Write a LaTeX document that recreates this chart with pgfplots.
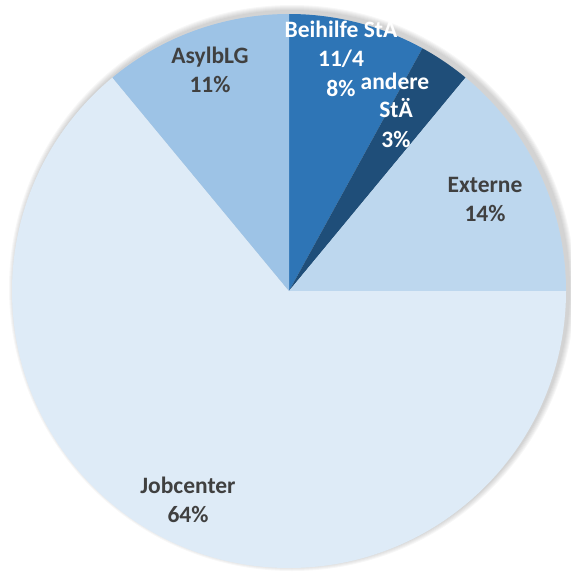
\documentclass[border=0pt]{standalone}
\usepackage{pgfplots}
\usepackage{pgfplotstable}
\usepackage{fontspec}
\setmainfont{Carlito}
\pgfplotsset{compat=1.18}
\definecolor{cBeihilfe}{HTML}{2E75B6}
\definecolor{cAndere}{HTML}{1F4E79}
\definecolor{cExterne}{HTML}{BDD7EE}
\definecolor{cJob}{HTML}{DEEBF7}
\definecolor{cAsyl}{HTML}{9DC3E6}
\definecolor{tdark}{HTML}{404040}
\tikzset{lbl/.style={font=\fontsize{23.5bp}{29bp}\selectfont\bfseries, inner sep=0pt, anchor=base}}
\pgfplotstableread{
label value
Beihilfe 8
andere 3
Externe 14
Jobcenter 64
AsylbLG 11
}\piedata
\newcommand\sector[3]{%
  \fill[#3] (axis cs:289,291) -- ([shift={(#1:277bp)}]axis cs:289,291) arc[start angle=#1, end angle=#2, radius=277bp] -- cycle;}
\begin{document}
\begin{tikzpicture}
\pgfplotstablegetelem{0}{value}\of\piedata \let\vA\pgfplotsretval
\pgfplotstablegetelem{1}{value}\of\piedata \let\vB\pgfplotsretval
\pgfplotstablegetelem{2}{value}\of\piedata \let\vC\pgfplotsretval
\pgfplotstablegetelem{3}{value}\of\piedata \let\vD\pgfplotsretval
\pgfplotstablegetelem{4}{value}\of\piedata \let\vE\pgfplotsretval
\pgfmathsetmacro\aA{90}
\pgfmathsetmacro\aB{\aA-3.6*\vA}
\pgfmathsetmacro\aC{\aB-3.6*\vB}
\pgfmathsetmacro\aD{\aC-3.6*\vC}
\pgfmathsetmacro\aE{\aD-3.6*\vD}
\pgfmathsetmacro\aF{\aE-3.6*\vE}
\begin{axis}[
  scale only axis, width=571bp, height=572bp,
  xmin=0, xmax=571, ymin=0, ymax=572, y dir=reverse,
  hide axis, clip=true,
]
% soft shadow
\pgfplotsinvokeforeach{1,...,6}{
  \fill[black, opacity=0.03] (axis cs:292,288) circle[radius=277bp+#1bp];
}
\sector{\aA}{\aB}{cBeihilfe}
\sector{\aB}{\aC}{cAndere}
\sector{\aC}{\aD}{cExterne}
\sector{\aD}{\aE}{cJob}
\sector{\aE}{\aF}{cAsyl}
% labels
\node[lbl, white] at (axis cs:341,38) {Beihilfe StA};
\node[lbl, white] at (axis cs:341,67) {11/4};
\node[lbl, white] at (axis cs:341,97) {8\%};
\node[lbl, white] at (axis cs:395,90) {andere};
\node[lbl, white] at (axis cs:396,118) {StÄ};
\node[lbl, white] at (axis cs:396,147) {3\%};
\node[lbl, tdark] at (axis cs:485,192) {Externe};
\node[lbl, tdark] at (axis cs:485,221) {14\%};
\node[lbl, tdark] at (axis cs:210,64) {AsylbLG};
\node[lbl, tdark] at (axis cs:210,93) {11\%};
\node[lbl, tdark] at (axis cs:188,493) {Jobcenter};
\node[lbl, tdark] at (axis cs:188,522) {64\%};
\end{axis}
\pgfresetboundingbox
\useasboundingbox (current axis.south west) rectangle (current axis.north east);
\end{tikzpicture}
\end{document}
